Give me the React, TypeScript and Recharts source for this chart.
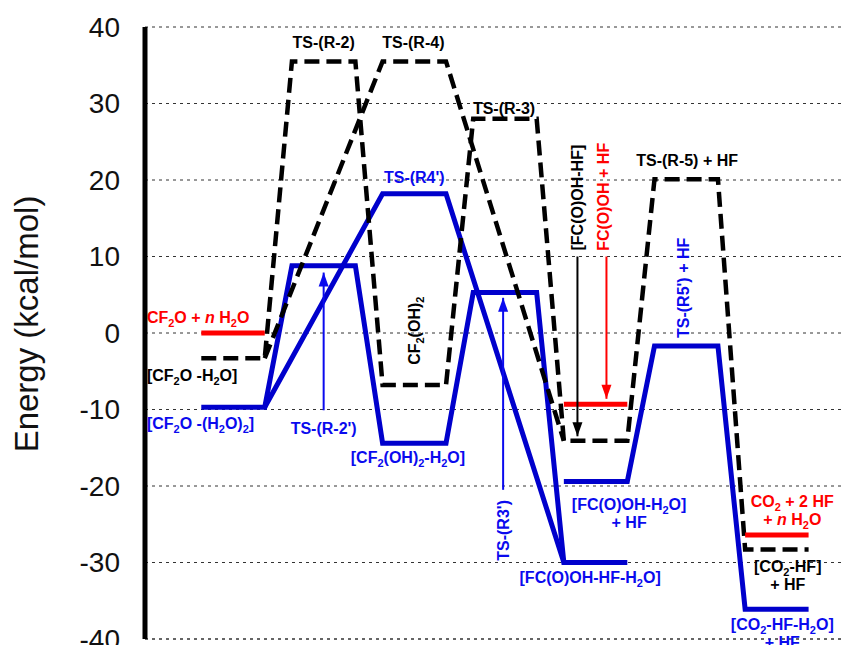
import React from 'react';
import { LineChart, Line, XAxis, YAxis, CartesianGrid, ReferenceDot, ReferenceLine } from 'recharts';

// reaction coordinate: stage i is a plateau from i - HALF to i + HALF
const HALF = 0.35;

const blackStages = [0, 1, 2, 3, 4, 5, 6];
const blackEnergy = [-3.3, 35.5, -6.8, 28.0, -14.1, 20.1, -28.3];
const r4Stages = [0, 2, 4];
const r4Energy = [-3.3, 35.5, -14.1];

const blueStages = [0, 1, 2, 3, 4];
const blueEnergy = [-9.7, 8.8, -14.4, 5.3, -30.0];
const r4pStages = [0, 2, 4];
const r4pEnergy = [-9.7, 18.2, -30.0];
const r5pStages = [4, 5, 6];
const r5pEnergy = [-19.4, -1.7, -36.1];

const redStages = [0, 4, 6];
const redEnergy = [0, -9.3, -26.4];

const yTicks = [-40, -30, -20, -10, 0, 10, 20, 30, 40];

const BLACK = '#000000';
const BLUE = '#0000cc';
const BLUE_TXT = '#0a0aee';
const RED = '#ff0000';
const FONT = '"Liberation Sans", Arial, sans-serif';

// thin arrows: stage position, start energy, tip energy
const blueArrows = [
  { x: 1.0, from: -10.1, to: 7.9 },
  { x: 2.98, from: -20.5, to: 4.6 },
];
const blackArrows = [{ x: 3.8, from: 10.0, to: -13.5 }];
const redArrows = [{ x: 4.12, from: 10.0, to: -8.6 }];

type Lab = { x: number; e: number; text: string; start?: boolean; rot?: boolean };

const blackLabels: Lab[] = [
  { x: 1.0, e: 38.0, text: 'TS-(R-2)' },
  { x: 1.99, e: 38.0, text: 'TS-(R-4)' },
  { x: 2.99, e: 29.4, text: 'TS-(R-3)' },
  { x: 5.01, e: 22.6, text: 'TS-(R-5) + HF' },
  { x: -0.95, e: -5.5, text: '[CF_2O -H_2O]', start: true },
  { x: 2.0, e: 0.3, text: 'CF_2(OH)_2', rot: true },
  { x: 3.8, e: 17.7, text: '[FC(O)OH-HF]', rot: true },
  { x: 6.12, e: -30.4, text: '[CO_2-HF]' },
  { x: 6.12, e: -32.8, text: '+ HF' },
];
const blueLabels: Lab[] = [
  { x: 2.0, e: 20.4, text: "TS-(R4')" },
  { x: -0.95, e: -11.8, text: '[CF_2O -(H_2O)_2]', start: true },
  { x: 1.0, e: -12.4, text: "TS-(R-2')" },
  { x: 1.93, e: -16.2, text: '[CF_2(OH)_2-H_2O]' },
  { x: 4.37, e: -22.3, text: '[FC(O)OH-H_2O]' },
  { x: 4.37, e: -24.7, text: '+ HF' },
  { x: 3.94, e: -31.9, text: '[FC(O)OH-HF-H_2O]' },
  { x: 2.98, e: -25.8, text: "TS-(R3')", rot: true },
  { x: 4.97, e: 5.9, text: "TS-(R5') + HF", rot: true },
  { x: 6.06, e: -38.0, text: '[CO_2-HF-H_2O]' },
  { x: 6.06, e: -40.4, text: '+ HF' },
];
const redLabels: Lab[] = [
  { x: -0.95, e: 2.1, text: 'CF_2O + *n* H_2O', start: true },
  { x: 4.08, e: 17.8, text: 'FC(O)OH + HF', rot: true },
  { x: 6.17, e: -21.9, text: 'CO_2 + 2 HF' },
  { x: 6.17, e: -24.3, text: '+ *n* H_2O' },
];

function levels(stages: number[], energies: number[], trimStart = false, trimEnd = false) {
  const pts: { x: number; e: number }[] = [];
  stages.forEach((s, k) => {
    if (!(trimStart && k === 0)) pts.push({ x: s - HALF, e: energies[k] });
    if (!(trimEnd && k === stages.length - 1)) pts.push({ x: s + HALF, e: energies[k] });
  });
  return pts;
}

function richParts(s: string) {
  const out: React.ReactNode[] = [];
  let shifted = false;
  s.split(/(_\d|\*[^*]+\*)/).filter(Boolean).forEach((p, k) => {
    if (p[0] === '_') {
      out.push(<tspan key={k} dy={4} fontSize={11}>{p.slice(1)}</tspan>);
      shifted = true;
    } else {
      const italic = p[0] === '*';
      out.push(
        <tspan key={k} dy={shifted ? -4 : undefined} fontStyle={italic ? 'italic' : undefined}>
          {italic ? p.slice(1, -1) : p}
        </tspan>
      );
      shifted = false;
    }
  });
  return out;
}

const labelShape = (lab: Lab, color: string) => (p: any) => {
  const { cx, cy } = p;
  return (
    <text
      x={cx}
      y={cy + 6}
      textAnchor={lab.start ? 'start' : 'middle'}
      transform={lab.rot ? `rotate(-90 ${cx} ${cy})` : undefined}
      fill={color}
      fontSize={16}
      fontWeight="bold"
      fontFamily={FONT}
    >
      {richParts(lab.text)}
    </text>
  );
};

const arrowDot = (color: string, up: boolean) => (p: any) => {
  if (p.index !== 1) return <g key={p.index} />;
  const { cx, cy } = p;
  const b = up ? cy + 14 : cy - 14;
  return <polygon key={p.index} points={`${cx},${cy} ${cx - 5},${b} ${cx + 5},${b}`} fill={color} />;
};

const renderYLabel = (props: any) => {
  const vb = props.viewBox;
  const cx = vb.x + 18;
  const cy = vb.y + vb.height / 2 - 9;
  return (
    <text
      x={cx}
      y={cy}
      transform={`rotate(-90 ${cx} ${cy})`}
      textAnchor="middle"
      dominantBaseline="central"
      fontSize={33}
      fontFamily={FONT}
      fill="#111"
    >
      Energy (kcal/mol)
    </text>
  );
};

export default function App() {
  const arrowLine = (a: { x: number; from: number; to: number }, color: string, key: string) => (
    <Line
      key={key}
      data={[{ x: a.x, e: a.from }, { x: a.x, e: a.to }]}
      dataKey="e"
      type="linear"
      stroke={color}
      strokeWidth={2}
      dot={arrowDot(color, a.to > a.from)}
      activeDot={false}
      isAnimationActive={false}
    />
  );

  return (
    <div style={{ width: 845, height: 637, fontFamily: FONT }}>
      <LineChart width={845} height={637} margin={{ top: 19, right: 0, bottom: 6, left: 0 }}>
        <CartesianGrid vertical={false} stroke="#333" strokeDasharray="3 4" />
        <ReferenceLine y={-40} stroke="#333" strokeDasharray="3 4" ifOverflow="visible" />
        <XAxis type="number" dataKey="x" domain={[-0.971, 6.84]} allowDataOverflow hide />
        <YAxis
          type="number"
          domain={[-40, 40]}
          ticks={yTicks}
          interval={0}
          allowDataOverflow
          width={137}
          tickLine={false}
          tickMargin={19}
          axisLine={{ stroke: '#000', strokeWidth: 5 }}
          tick={{ fontSize: 28, fill: '#111', fontFamily: FONT }}
          label={renderYLabel}
        />
        <Line data={levels(blueStages, blueEnergy)} dataKey="e" type="linear" stroke={BLUE} strokeWidth={5} dot={false} activeDot={false} isAnimationActive={false} />
        <Line data={levels(r4pStages, r4pEnergy, true, true)} dataKey="e" type="linear" stroke={BLUE} strokeWidth={5} dot={false} activeDot={false} isAnimationActive={false} />
        <Line data={levels(r5pStages, r5pEnergy)} dataKey="e" type="linear" stroke={BLUE} strokeWidth={5} dot={false} activeDot={false} isAnimationActive={false} />
        <Line data={levels(blackStages, blackEnergy)} dataKey="e" type="linear" stroke={BLACK} strokeWidth={4.5} strokeDasharray="15 7" dot={false} activeDot={false} isAnimationActive={false} />
        <Line data={levels(r4Stages, r4Energy, true, true)} dataKey="e" type="linear" stroke={BLACK} strokeWidth={4.5} strokeDasharray="15 7" dot={false} activeDot={false} isAnimationActive={false} />
        {redStages.map((s, k) => (
          <Line
            key={'red' + k}
            data={levels([s], [redEnergy[k]])}
            dataKey="e"
            type="linear"
            stroke={RED}
            strokeWidth={5}
            dot={false}
            activeDot={false}
            isAnimationActive={false}
          />
        ))}
        {blueArrows.map((a, k) => arrowLine(a, BLUE_TXT, 'ba' + k))}
        {blackArrows.map((a, k) => arrowLine(a, BLACK, 'ka' + k))}
        {redArrows.map((a, k) => arrowLine(a, RED, 'ra' + k))}
        {blackLabels.map((l, k) => (
          <ReferenceDot key={'kl' + k} x={l.x} y={l.e} r={0} ifOverflow="visible" shape={labelShape(l, BLACK)} />
        ))}
        {blueLabels.map((l, k) => (
          <ReferenceDot key={'bl' + k} x={l.x} y={l.e} r={0} ifOverflow="visible" shape={labelShape(l, BLUE_TXT)} />
        ))}
        {redLabels.map((l, k) => (
          <ReferenceDot key={'rl' + k} x={l.x} y={l.e} r={0} ifOverflow="visible" shape={labelShape(l, RED)} />
        ))}
      </LineChart>
    </div>
  );
}
